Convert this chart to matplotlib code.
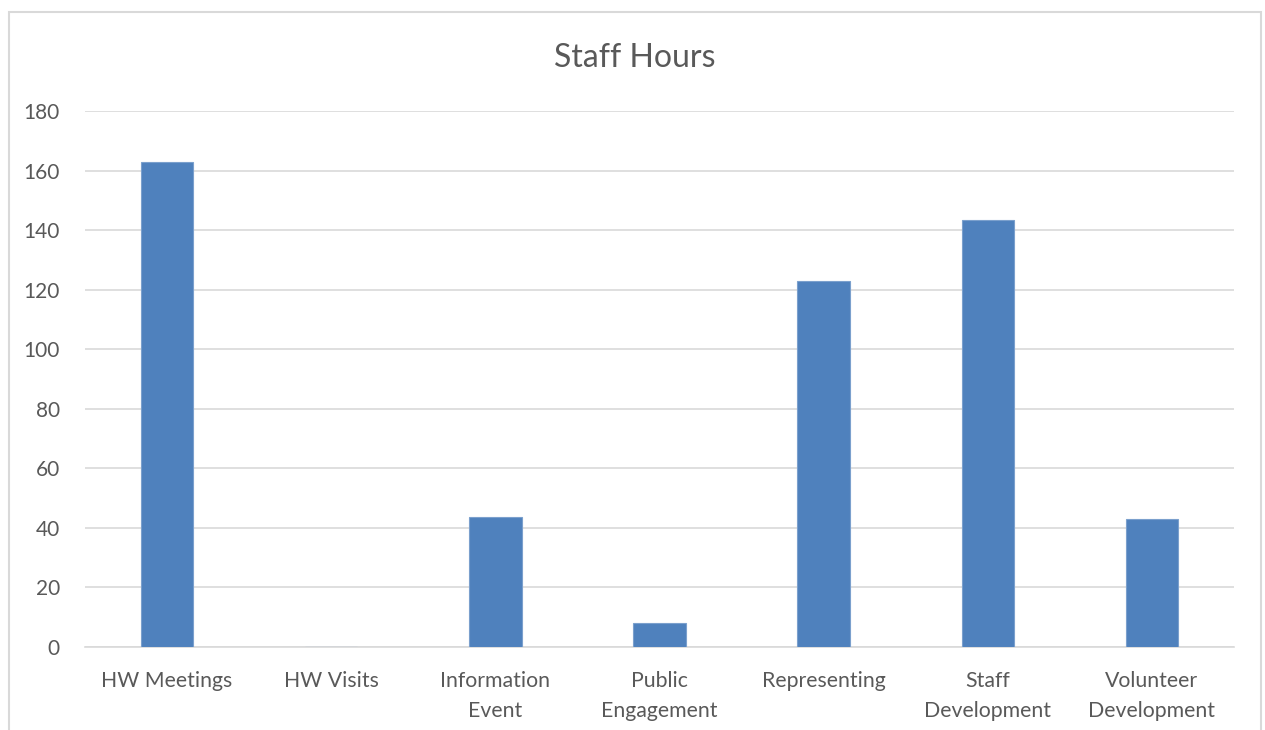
import matplotlib
matplotlib.use('Agg')
from matplotlib import pyplot as plt
from matplotlib.patches import Rectangle

categories = ['HW Meetings', 'HW Visits', 'Information\nEvent', 'Public\nEngagement',
              'Representing', 'Staff\nDevelopment', 'Volunteer\nDevelopment']
hours = [163, 0, 43.5, 8, 123, 143.5, 43]
yticks = [0, 20, 40, 60, 80, 100, 120, 140, 160, 180]

plt.rcParams['font.family'] = ['Lato', 'DejaVu Sans']
txt = '#595959'
grid = '#d9d9d9'

fig = plt.figure(figsize=(12.65, 7.3), dpi=100)
# chart border
fig.patches.append(Rectangle((9/1265, -0.05), 1252/1265, 1.05 - 12/730,
                             transform=fig.transFigure, fill=False,
                             edgecolor=grid, linewidth=1.5))

ax = fig.add_axes([85/1265, 1 - 647/730, 1149/1265, 536/730])
x = range(len(categories))
ax.bar(x, hours, width=0.32, color='#4f81bd', edgecolor='#7ba0cd', linewidth=0.8, zorder=3)

ax.set_xlim(-0.5, len(categories) - 0.5)
ax.set_ylim(0, 180)
ax.set_yticks(yticks)
ax.set_xticks(list(x))
ax.set_xticklabels(categories, fontsize=15.3, color=txt, linespacing=1.68)
ax.tick_params(axis='y', labelsize=15, labelcolor=txt, length=0, pad=18)
ax.tick_params(axis='x', length=0, pad=17)
for t in ax.get_xticklabels():
    t.set_verticalalignment('top')
ax.grid(axis='y', color=grid, linewidth=1.2, zorder=0)
for s in ['top', 'right', 'left']:
    ax.spines[s].set_visible(False)
ax.spines['bottom'].set_color(grid)
ax.spines['bottom'].set_linewidth(1.2)

fig.text(635/1265, 1 - 58/730, 'Staff Hours', ha='center', va='center', fontsize=23, color=txt)

plt.savefig('out.png', dpi=100)
